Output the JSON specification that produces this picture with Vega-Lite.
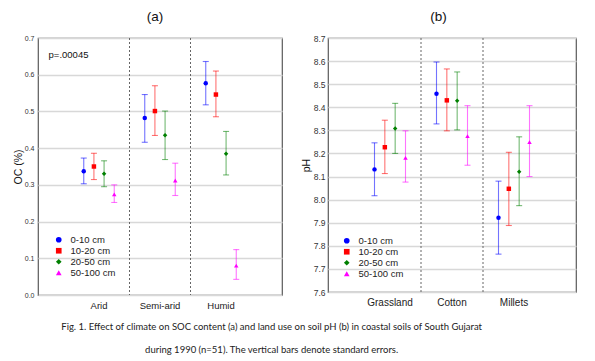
{
  "$schema": "https://vega.github.io/schema/vega-lite/v6.json",
  "background": "white",
  "padding": {"left": 12, "top": 8, "right": 5, "bottom": 5},
  "config": {
    "font": "Liberation Sans",
    "view": {"stroke": "#5a5a5a", "strokeWidth": 1.2},
    "axis": {"labelFont": "Liberation Sans", "titleFont": "Liberation Sans", "labelColor": "#333", "titleColor": "#111", "gridColor": "#d8d8d8", "gridWidth": 1.3, "domain": false, "ticks": false, "titleFontWeight": "normal", "labelOverlap": false},
    "legend": {"title": null, "labelFont": "Liberation Sans", "labelFontSize": 9.5, "labelColor": "#222", "rowPadding": 0, "labelOffset": 7, "padding": 0, "symbolStrokeWidth": 0, "symbolOpacity": 1},
    "concat": {"spacing": 17}
  },
  "datasets": {
    "oc": [
      {"cat": "Arid", "depth": "0-10 cm", "mean": 0.337, "lo": 0.303, "hi": 0.373},
      {"cat": "Arid", "depth": "10-20 cm", "mean": 0.350, "lo": 0.3145, "hi": 0.386},
      {"cat": "Arid", "depth": "20-50 cm", "mean": 0.330, "lo": 0.295, "hi": 0.3655},
      {"cat": "Arid", "depth": "50-100 cm", "mean": 0.274, "lo": 0.252, "hi": 0.300},
      {"cat": "Semi-arid", "depth": "0-10 cm", "mean": 0.482, "lo": 0.416, "hi": 0.546},
      {"cat": "Semi-arid", "depth": "10-20 cm", "mean": 0.501, "lo": 0.4345, "hi": 0.570},
      {"cat": "Semi-arid", "depth": "20-50 cm", "mean": 0.435, "lo": 0.369, "hi": 0.501},
      {"cat": "Semi-arid", "depth": "50-100 cm", "mean": 0.312, "lo": 0.271, "hi": 0.359},
      {"cat": "Humid", "depth": "0-10 cm", "mean": 0.577, "lo": 0.518, "hi": 0.636},
      {"cat": "Humid", "depth": "10-20 cm", "mean": 0.546, "lo": 0.4855, "hi": 0.610},
      {"cat": "Humid", "depth": "20-50 cm", "mean": 0.385, "lo": 0.327, "hi": 0.4455},
      {"cat": "Humid", "depth": "50-100 cm", "mean": 0.080, "lo": 0.0426, "hi": 0.1236}
    ],
    "ph": [
      {"cat": "Grassland", "depth": "0-10 cm", "mean": 8.131, "lo": 8.017, "hi": 8.246},
      {"cat": "Grassland", "depth": "10-20 cm", "mean": 8.227, "lo": 8.113, "hi": 8.344},
      {"cat": "Grassland", "depth": "20-50 cm", "mean": 8.308, "lo": 8.200, "hi": 8.417},
      {"cat": "Grassland", "depth": "50-100 cm", "mean": 8.181, "lo": 8.076, "hi": 8.298},
      {"cat": "Cotton", "depth": "0-10 cm", "mean": 8.459, "lo": 8.328, "hi": 8.596},
      {"cat": "Cotton", "depth": "10-20 cm", "mean": 8.430, "lo": 8.298, "hi": 8.566},
      {"cat": "Cotton", "depth": "20-50 cm", "mean": 8.428, "lo": 8.302, "hi": 8.553},
      {"cat": "Cotton", "depth": "50-100 cm", "mean": 8.275, "lo": 8.149, "hi": 8.407},
      {"cat": "Millets", "depth": "0-10 cm", "mean": 7.922, "lo": 7.764, "hi": 8.080},
      {"cat": "Millets", "depth": "10-20 cm", "mean": 8.047, "lo": 7.888, "hi": 8.205},
      {"cat": "Millets", "depth": "20-50 cm", "mean": 8.121, "lo": 7.974, "hi": 8.272},
      {"cat": "Millets", "depth": "50-100 cm", "mean": 8.249, "lo": 8.100, "hi": 8.407}
    ],
    "sepA": [{"cat": "Semi-arid"}, {"cat": "Humid"}],
    "sepB": [{"cat": "Cotton"}, {"cat": "Millets"}]
  },
  "title": {
    "text": ["Fig. 1. Effect of climate on SOC content (a) and land use on soil pH (b) in coastal soils of South Gujarat", "during 1990 (n=51). The vertical bars denote standard errors."],
    "orient": "bottom", "anchor": "middle", "font": "Lato", "fontSize": 9.5, "fontWeight": "normal", "color": "#222", "lineHeight": 22.5, "offset": 12, "dx": -23
  },
  "resolve": {"scale": {"x": "independent", "y": "independent", "color": "independent", "shape": "independent", "xOffset": "independent"}},
  "hconcat": [
    {
      "width": 244, "height": 257,
      "title": {"text": "(a)", "font": "Liberation Sans", "fontSize": 13.5, "fontWeight": "normal", "color": "#111", "anchor": "middle", "frame": "group", "dx": -5, "offset": 11},
      "layer": [
        {
          "data": {"name": "oc"},
          "mark": {"type": "rule", "strokeWidth": 1.1, "opacity": 0.55},
          "encoding": {
            "x": {"field": "cat", "type": "nominal", "scale": {"domain": ["Arid", "Semi-arid", "Humid"], "paddingInner": 0, "paddingOuter": 0.5}, "axis": {"title": null, "labelAngle": 0, "labelFontSize": 9.5, "labelPadding": 5, "labelColor": "#222", "grid": false, "bandPosition": 0.5}},
            "xOffset": {"field": "depth", "type": "nominal", "scale": {"domain": ["0-10 cm", "10-20 cm", "20-50 cm", "50-100 cm"], "paddingInner": 0, "paddingOuter": 1.3}},
            "y": {"field": "lo", "type": "quantitative", "scale": {"domain": [0, 0.7], "nice": false}, "axis": {"title": "OC (%)", "titleFontSize": 10.5, "titlePadding": 1, "labelFontSize": 7, "labelPadding": 4, "values": [0, 0.1, 0.2, 0.3, 0.4, 0.5, 0.6, 0.7], "tickCount": 8, "labelOverlap": false, "format": ".1f", "grid": true}},
            "y2": {"field": "hi"},
            "color": {"field": "depth", "type": "nominal", "scale": {"domain": ["0-10 cm", "10-20 cm", "20-50 cm", "50-100 cm"], "range": ["#0000ff", "#ff0000", "#008000", "#ff00ff"]}, "legend": {"orient": "none", "legendX": 16, "legendY": 197, "symbolSize": 32}}
          }
        },
        {
          "data": {"name": "oc"},
          "mark": {"type": "tick", "size": 6, "thickness": 1.1, "opacity": 0.55},
          "encoding": {
            "x": {"field": "cat", "type": "nominal"},
            "xOffset": {"field": "depth", "type": "nominal"},
            "y": {"field": "lo", "type": "quantitative"},
            "color": {"field": "depth", "type": "nominal"}
          }
        },
        {
          "data": {"name": "oc"},
          "mark": {"type": "tick", "size": 6, "thickness": 1.1, "opacity": 0.55},
          "encoding": {
            "x": {"field": "cat", "type": "nominal"},
            "xOffset": {"field": "depth", "type": "nominal"},
            "y": {"field": "hi", "type": "quantitative"},
            "color": {"field": "depth", "type": "nominal"}
          }
        },
        {
          "data": {"name": "oc"},
          "mark": {"type": "point", "filled": true, "opacity": 1, "size": 20},
          "encoding": {
            "x": {"field": "cat", "type": "nominal"},
            "xOffset": {"field": "depth", "type": "nominal"},
            "y": {"field": "mean", "type": "quantitative"},
            "color": {"field": "depth", "type": "nominal"},
            "shape": {"field": "depth", "type": "nominal", "scale": {"domain": ["0-10 cm", "10-20 cm", "20-50 cm", "50-100 cm"], "range": ["circle", "square", "diamond", "triangle-up"]}, "legend": {"orient": "none", "legendX": 16, "legendY": 197, "symbolSize": 32}}
          }
        },
        {
          "data": {"name": "sepA"},
          "mark": {"type": "rule", "color": "#666", "strokeDash": [2, 2], "strokeWidth": 1},
          "encoding": {"x": {"field": "cat", "type": "nominal", "bandPosition": 0}}
        },
        {
          "data": {"values": [{"label": "p=.00045"}]},
          "mark": {"type": "text", "fontSize": 9.5, "align": "center", "baseline": "middle", "color": "#111", "font": "Liberation Sans"},
          "encoding": {
            "x": {"datum": "Arid", "bandPosition": 0},
            "y": {"datum": 0.655},
            "text": {"field": "label"}
          }
        }
      ]
    },
    {
      "width": 248, "height": 254,
      "title": {"text": "(b)", "font": "Liberation Sans", "fontSize": 13.5, "fontWeight": "normal", "color": "#111", "anchor": "middle", "frame": "group", "dx": -13.5, "offset": 11},
      "layer": [
        {
          "data": {"name": "ph"},
          "mark": {"type": "rule", "strokeWidth": 1.1, "opacity": 0.55},
          "encoding": {
            "x": {"field": "cat", "type": "nominal", "scale": {"domain": ["Grassland", "Cotton", "Millets"], "paddingInner": 0, "paddingOuter": 0.5}, "axis": {"title": null, "labelAngle": 0, "labelFontSize": 10, "labelPadding": 5, "labelColor": "#222", "grid": false, "bandPosition": 0.5}},
            "xOffset": {"field": "depth", "type": "nominal", "scale": {"domain": ["0-10 cm", "10-20 cm", "20-50 cm", "50-100 cm"], "paddingInner": 0, "paddingOuter": 1.3}},
            "y": {"field": "lo", "type": "quantitative", "scale": {"domain": [7.6, 8.7], "nice": false, "zero": false}, "axis": {"title": "pH", "titleFontSize": 10.5, "titlePadding": 2, "labelFontSize": 8.5, "labelPadding": 3, "values": [7.6, 7.7, 7.8, 7.9, 8.0, 8.1, 8.2, 8.3, 8.4, 8.5, 8.6, 8.7], "tickCount": 12, "labelOverlap": false, "format": ".1f", "grid": true}},
            "y2": {"field": "hi"},
            "color": {"field": "depth", "type": "nominal", "scale": {"domain": ["0-10 cm", "10-20 cm", "20-50 cm", "50-100 cm"], "range": ["#0000ff", "#ff0000", "#008000", "#ff00ff"]}, "legend": {"orient": "none", "legendX": 14, "legendY": 198, "symbolSize": 32}}
          }
        },
        {
          "data": {"name": "ph"},
          "mark": {"type": "tick", "size": 6, "thickness": 1.1, "opacity": 0.55},
          "encoding": {
            "x": {"field": "cat", "type": "nominal"},
            "xOffset": {"field": "depth", "type": "nominal"},
            "y": {"field": "lo", "type": "quantitative"},
            "color": {"field": "depth", "type": "nominal"}
          }
        },
        {
          "data": {"name": "ph"},
          "mark": {"type": "tick", "size": 6, "thickness": 1.1, "opacity": 0.55},
          "encoding": {
            "x": {"field": "cat", "type": "nominal"},
            "xOffset": {"field": "depth", "type": "nominal"},
            "y": {"field": "hi", "type": "quantitative"},
            "color": {"field": "depth", "type": "nominal"}
          }
        },
        {
          "data": {"name": "ph"},
          "mark": {"type": "point", "filled": true, "opacity": 1, "size": 20},
          "encoding": {
            "x": {"field": "cat", "type": "nominal"},
            "xOffset": {"field": "depth", "type": "nominal"},
            "y": {"field": "mean", "type": "quantitative"},
            "color": {"field": "depth", "type": "nominal"},
            "shape": {"field": "depth", "type": "nominal", "scale": {"domain": ["0-10 cm", "10-20 cm", "20-50 cm", "50-100 cm"], "range": ["circle", "square", "diamond", "triangle-up"]}, "legend": {"orient": "none", "legendX": 14, "legendY": 198, "symbolSize": 32}}
          }
        },
        {
          "data": {"name": "sepB"},
          "mark": {"type": "rule", "color": "#666", "strokeDash": [2, 2], "strokeWidth": 1},
          "encoding": {"x": {"field": "cat", "type": "nominal", "bandPosition": 0}}
        }
      ]
    }
  ]
}
